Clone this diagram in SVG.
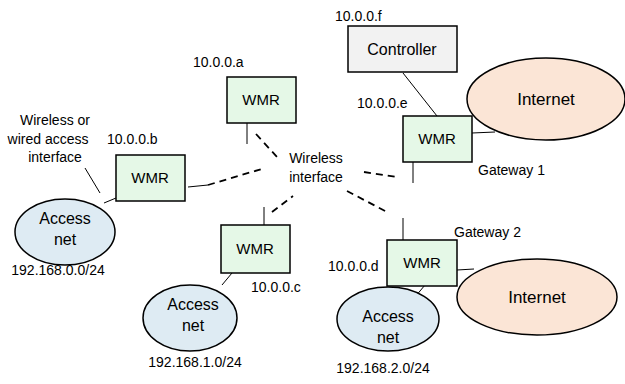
<svg xmlns="http://www.w3.org/2000/svg" width="625" height="384" viewBox="0 0 625 384">
<style>
text{font-family:"Liberation Sans",Arial,sans-serif;fill:#000}
.lbl{font-size:14px}
.node{font-size:15px;text-anchor:middle}
.big{font-size:16px;text-anchor:middle}
.wmr{fill:#e5f8e7;stroke:#000;stroke-width:1.5}
.acc{fill:#deebf3;stroke:#000;stroke-width:1.5}
.inet{fill:#fbe5d6;stroke:#000;stroke-width:1.5}
.ctl{fill:#f2f2f2;stroke:#000;stroke-width:1.5}
.ln{stroke:#000;stroke-width:1;fill:none}
.dash{stroke:#000;stroke-width:1.8;stroke-dasharray:7 5;fill:none}
</style>
<rect width="625" height="384" fill="#fff"/>
<g id="connectors">
<line class="ln" x1="403" y1="73" x2="437" y2="116"/>
<line class="ln" x1="472" y1="133" x2="495" y2="132"/>
<line class="ln" x1="413" y1="162" x2="413" y2="183"/>
<line class="ln" x1="247" y1="123" x2="247" y2="144"/>
<line class="ln" x1="188" y1="187" x2="208" y2="185"/>
<line class="ln" x1="104" y1="203" x2="116" y2="198"/>
<line class="ln" x1="85" y1="168" x2="100" y2="193"/>
<line class="ln" x1="264" y1="207" x2="264" y2="225"/>
<line class="ln" x1="222" y1="285" x2="232" y2="273"/>
<line class="ln" x1="403" y1="218" x2="403" y2="240"/>
<line class="ln" x1="457" y1="270" x2="474" y2="269"/>
<line class="ln" x1="415" y1="297" x2="425" y2="285"/>
<line class="dash" x1="208" y1="185" x2="265" y2="168"/>
<line class="dash" x1="256" y1="134" x2="277" y2="157"/>
<line class="dash" x1="272" y1="212" x2="293" y2="196"/>
<line class="dash" x1="364" y1="172" x2="397" y2="177"/>
<line class="dash" x1="347" y1="191" x2="387" y2="212"/>
</g>
<g id="controller">
<rect class="ctl" x="348" y="26" width="109" height="46"/>
<text class="big" x="402" y="55">Controller</text>
<text class="lbl" x="335" y="21">10.0.0.f</text>
</g>
<g id="internet1">
<ellipse class="inet" cx="546" cy="99" rx="79" ry="41"/>
<text class="big" x="546" y="105" style="font-size:17px">Internet</text>
</g>
<g id="wmr-e">
<rect class="wmr" x="403" y="116" width="69" height="46"/>
<text class="node" x="437" y="144">WMR</text>
<text class="lbl" x="357" y="108">10.0.0.e</text>
<text class="lbl" x="478" y="175">Gateway 1</text>
</g>
<g id="wmr-a">
<rect class="wmr" x="227" y="77" width="69" height="46"/>
<text class="node" x="261" y="105">WMR</text>
<text class="lbl" x="193" y="67">10.0.0.a</text>
</g>
<g id="wmr-b">
<rect class="wmr" x="116" y="155" width="69" height="46"/>
<text class="node" x="150" y="183">WMR</text>
<text class="lbl" x="107" y="144">10.0.0.b</text>
</g>
<g id="access-note">
<text class="lbl" x="55" y="125" text-anchor="middle">Wireless or</text>
<text class="lbl" x="48" y="144" text-anchor="middle">wired access</text>
<text class="lbl" x="55" y="162" text-anchor="middle">interface</text>
</g>
<g id="wireless-label">
<text class="lbl" x="316" y="163" text-anchor="middle">Wireless</text>
<text class="lbl" x="316" y="182" text-anchor="middle">interface</text>
</g>
<g id="access-b">
<ellipse class="acc" cx="65" cy="232" rx="50" ry="33"/>
<text class="big" x="65" y="224">Access</text>
<text class="big" x="65" y="245">net</text>
<text class="lbl" x="58" y="275" text-anchor="middle">192.168.0.0/24</text>
</g>
<g id="wmr-c">
<rect class="wmr" x="221" y="225" width="69" height="48"/>
<text class="node" x="255" y="254">WMR</text>
<text class="lbl" x="251" y="292">10.0.0.c</text>
</g>
<g id="access-c">
<ellipse class="acc" cx="190" cy="318" rx="47" ry="33"/>
<text class="big" x="193" y="310">Access</text>
<text class="big" x="193" y="331">net</text>
<text class="lbl" x="195" y="367" text-anchor="middle">192.168.1.0/24</text>
</g>
<g id="wmr-d">
<rect class="wmr" x="387" y="240" width="70" height="46"/>
<text class="node" x="422" y="268">WMR</text>
<text class="lbl" x="328" y="271">10.0.0.d</text>
<text class="lbl" x="454" y="237">Gateway 2</text>
</g>
<g id="internet2">
<ellipse class="inet" cx="537" cy="297" rx="80" ry="38"/>
<text class="big" x="537" y="303" style="font-size:17px">Internet</text>
</g>
<g id="access-d">
<ellipse class="acc" cx="388" cy="319" rx="51" ry="32"/>
<text class="big" x="388" y="322">Access</text>
<text class="big" x="388" y="343">net</text>
<text class="lbl" x="383" y="373" text-anchor="middle">192.168.2.0/24</text>
</g>
</svg>
